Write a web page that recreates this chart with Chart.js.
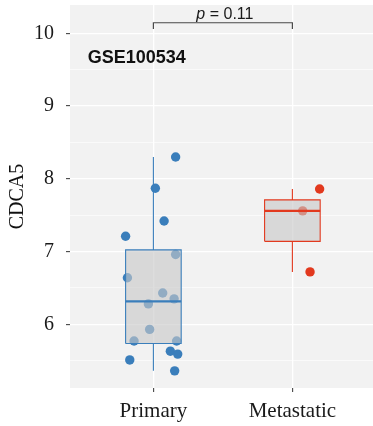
<!DOCTYPE html>
<html>
<head>
<meta charset="utf-8">
<script src="https://cdn.jsdelivr.net/npm/chart.js@4/dist/chart.umd.min.js"></script>
<style>
  html, body { margin: 0; padding: 0; background: #ffffff; }
  #c { display: block; }
</style>
</head>
<body>
<canvas id="c" width="373" height="426"></canvas>
<script>
// CDCA5 expression by tumour site (GSE100534)
const groups = ['Primary', 'Metastatic'];
const primaryValues    = [8.30, 7.87, 7.42, 7.21, 6.96, 6.64, 6.43, 6.35, 6.28, 5.93, 5.77, 5.77, 5.63, 5.59, 5.51, 5.36];
const primaryJitter    = [0.160, 0.014, 0.077, -0.200, 0.160, -0.187, 0.067, 0.149, -0.036, -0.027, -0.139, 0.167, 0.122, 0.175, -0.170, 0.153];
const metastaticValues = [7.86, 7.56, 6.72];
const metastaticJitter = [0.196, 0.074, 0.127];
const yMajorTicks = [6, 7, 8, 9, 10];
const yMinorTicks = [5.5, 6.5, 7.5, 8.5, 9.5];
const pValueText = '0.11';
const cohortName = 'GSE100534';

const groupColors = ['#3a7ebb', '#e2391e'];
const serif = 'Liberation Serif';
const sans = 'Liberation Sans';
const BOX_HALF = 0.2;
const BRACKET_Y = 10.146;
const BRACKET_TIP = 10.06;

// quantile (linear interpolation between order statistics)
function quantile(sorted, p) {
  const h = (sorted.length - 1) * p;
  const lo = Math.floor(h), hi = Math.ceil(h);
  return sorted[lo] + (h - lo) * (sorted[hi] - sorted[lo]);
}
function boxStats(values) {
  const s = values.slice().sort((a, b) => a - b);
  const q1 = quantile(s, 0.25), med = quantile(s, 0.5), q3 = quantile(s, 0.75);
  const iqr = q3 - q1;
  const inside = s.filter(v => v >= q1 - 1.5 * iqr && v <= q3 + 1.5 * iqr);
  return { q1, med, q3, lo: inside[0], hi: inside[inside.length - 1] };
}

const seriesValues = [primaryValues, metastaticValues];
const seriesJitter = [primaryJitter, metastaticJitter];

const datasets = [];
seriesValues.forEach((vals, g) => {
  const color = groupColors[g];
  const st = boxStats(vals);
  const L = g - BOX_HALF, R = g + BOX_HALF;
  const line = (data, width) => ({
    data, showLine: true, pointRadius: 0, borderColor: color,
    borderWidth: width, fill: false, order: 1
  });
  // jittered observations (drawn underneath the box)
  datasets.push({
    data: vals.map((v, i) => ({ x: g + seriesJitter[g][i], y: v })),
    pointRadius: 4.7, pointHoverRadius: 4.7, pointBorderWidth: 0,
    backgroundColor: color, borderColor: color, order: 3
  });
  // translucent box body between the hinges
  datasets.push({
    data: [{ x: L, y: st.q3 }, { x: R, y: st.q3 }],
    showLine: true, pointRadius: 0, borderWidth: 0,
    borderColor: 'rgba(0,0,0,0)',
    backgroundColor: 'rgba(200,200,200,0.62)',
    fill: { value: st.q1 }, order: 2
  });
  // box outline, whiskers and median
  datasets.push(line([{ x: L, y: st.q1 }, { x: R, y: st.q1 }, { x: R, y: st.q3 }, { x: L, y: st.q3 }, { x: L, y: st.q1 }], 1.1));
  datasets.push(line([{ x: g, y: st.q3 }, { x: g, y: st.hi }], 1.1));
  datasets.push(line([{ x: g, y: st.q1 }, { x: g, y: st.lo }], 1.1));
  datasets.push(line([{ x: L, y: st.med }, { x: R, y: st.med }], 2.2));
});

// significance bracket between the two groups
datasets.push({
  data: [{ x: 0, y: BRACKET_TIP }, { x: 0, y: BRACKET_Y }, { x: 1, y: BRACKET_Y }, { x: 1, y: BRACKET_TIP }],
  showLine: true, pointRadius: 0, borderColor: '#4a4a4a', borderWidth: 1.2, fill: false, order: 0
});

const panelBackground = {
  id: 'panelBackground',
  beforeDraw(chart) {
    const { ctx, chartArea: a } = chart;
    ctx.save();
    ctx.fillStyle = '#f2f2f2';
    ctx.fillRect(a.left, a.top, a.right - a.left, a.bottom - a.top);
    ctx.restore();
  }
};

const plotLabels = {
  id: 'plotLabels',
  afterDatasetsDraw(chart) {
    const { ctx, scales: { x, y } } = chart;
    ctx.save();
    // p-value above the bracket
    const pFont = `italic 16px "${sans}"`;
    const restFont = `16px "${sans}"`;
    const rest = ' = ' + pValueText;
    ctx.font = pFont; const wp = ctx.measureText('p').width;
    ctx.font = restFont; const wr = ctx.measureText(rest).width;
    const cx = x.getPixelForValue(0.5) + 2;
    const by = y.getPixelForValue(BRACKET_Y) - 3.5;
    const x0 = cx - (wp + wr) / 2;
    ctx.fillStyle = '#1a1a1a';
    ctx.textBaseline = 'alphabetic';
    ctx.textAlign = 'left';
    ctx.font = pFont; ctx.fillText('p', x0, by);
    ctx.font = restFont; ctx.fillText(rest, x0 + wp, by);
    // cohort label
    ctx.font = `bold 18px "${sans}"`;
    ctx.fillStyle = '#111111';
    ctx.fillText(cohortName, x.getPixelForValue(-0.473), y.getPixelForValue(9.588));
    ctx.restore();
  }
};

const isMajor = v => yMajorTicks.includes(v);

new Chart(document.getElementById('c'), {
  type: 'scatter',
  data: { datasets },
  options: {
    responsive: false,
    animation: false,
    events: [],
    layout: { autoPadding: false, padding: { top: 5, left: 0, right: 0, bottom: 0 } },
    plugins: { legend: { display: false }, tooltip: { enabled: false } },
    scales: {
      x: {
        type: 'linear', min: -0.6, max: 1.58,
        afterBuildTicks: s => { s.ticks = groups.map((_, i) => ({ value: i })); },
        afterFit: s => { s.height = 38; s.paddingLeft = 0; s.paddingRight = 0; },
        border: { display: false },
        grid: { color: '#ffffff', lineWidth: 1.3, tickColor: '#333333', tickLength: 4, tickWidth: 1 },
        ticks: {
          autoSkip: false, maxRotation: 0, padding: 7,
          color: '#1a1a1a', font: { family: serif, size: 21 },
          callback: v => groups[v]
        }
      },
      y: {
        type: 'linear', min: 5.124, max: 10.39,
        afterBuildTicks: s => {
          s.ticks = yMinorTicks.concat(yMajorTicks).sort((a, b) => a - b).map(v => ({ value: v }));
        },
        afterFit: s => { s.width = 70; s.paddingTop = 0; s.paddingBottom = 0; },
        border: { display: false },
        grid: {
          color: '#ffffff',
          lineWidth: c => (c.tick && isMajor(c.tick.value)) ? 1.3 : 0.6,
          tickColor: c => (c.tick && isMajor(c.tick.value)) ? '#333333' : 'rgba(0,0,0,0)',
          tickLength: 4, tickWidth: 1
        },
        ticks: {
          autoSkip: false, padding: 12,
          color: '#1a1a1a', font: { family: serif, size: 20 },
          callback: v => isMajor(v) ? String(v) : ''
        },
        title: {
          display: true, text: 'CDCA5', color: '#111111',
          font: { family: serif, size: 20 }, padding: { top: 6, bottom: 0 }
        }
      }
    }
  },
  plugins: [panelBackground, plotLabels]
});
</script>
</body>
</html>
